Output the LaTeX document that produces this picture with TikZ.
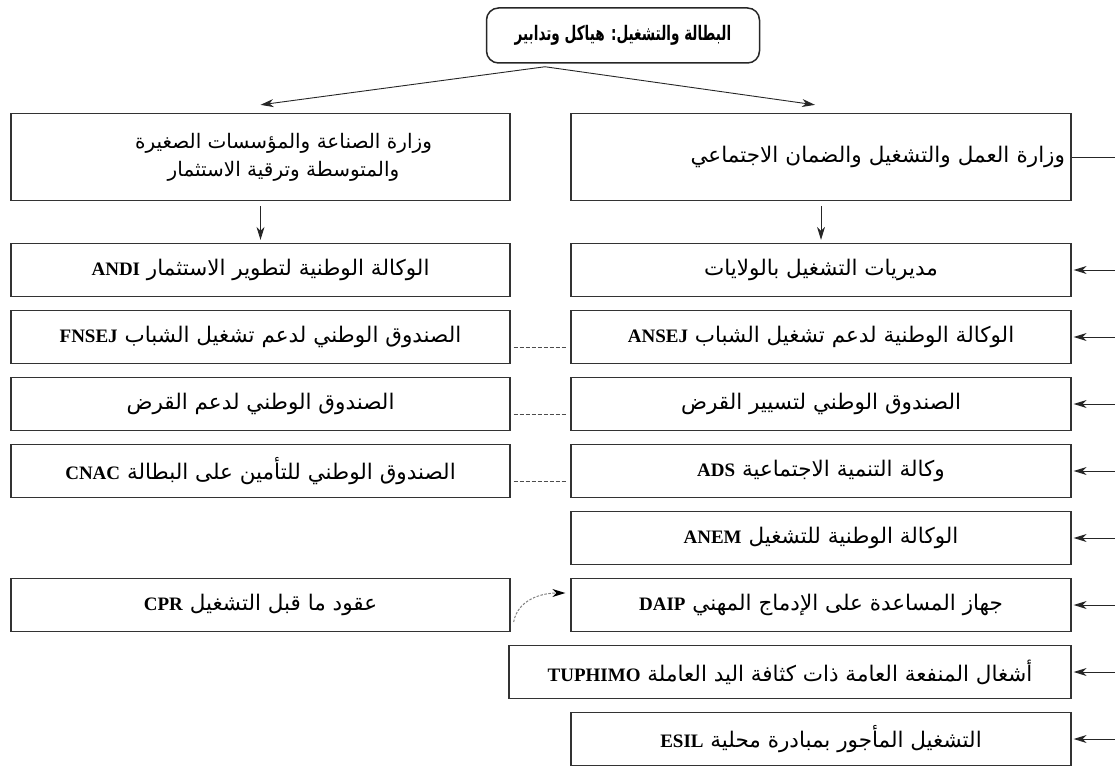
\documentclass[tikz,border=0pt]{standalone}
\usepackage{fontspec}
\setmainfont{Liberation Serif}
\newfontfamily\arabicfont[Script=Arabic]{DejaVu Sans}
\TeXXeTstate=1
\usetikzlibrary{arrows.meta}
\newcommand{\artxt}[1]{{\arabicfont\beginR #1\endR}}
\newcommand{\lattxt}[1]{\beginL{\rmfamily\bfseries\fontsize{19}{22}\selectfont #1}\endL{}}
\begin{document}
\begin{tikzpicture}[x=1pt,y=-1pt,
  box/.style={draw=black!80, line width=1.3pt, minimum height=53pt, inner sep=0pt, font=\fontsize{21.5}{28}\selectfont},
  lbox/.style={box, minimum width=499pt},
  rbox/.style={box, minimum width=500pt},
  conn/.style={draw=black!85, line width=0.9pt},
  arr/.style={conn, -{Stealth[length=13pt,width=8pt,inset=4pt]}},
  dashconn/.style={draw=black!70, line width=0.9pt, dash pattern=on 4pt off 2pt},
  ]
\useasboundingbox (0,0) rectangle (1115,767);
% top
\node[draw=black!85, line width=1.5pt, rounded corners=12pt, minimum width=273pt, minimum height=55pt, inner sep=0pt, font=\fontsize{20}{24}\selectfont\bfseries] (top) at (623,35.5) {\scalebox{0.68}[1]{\artxt{البطالة والتشغيل: هياكل وتدابير}}};
% row 1
\node[lbox, minimum height=87pt, font=\fontsize{20}{28}\selectfont] (l1) at (260.5,157) {\hspace*{46pt}\begin{tabular}{@{}c@{}}\artxt{وزارة الصناعة والمؤسسات الصغيرة}\\ \artxt{والمتوسطة وترقية الاستثمار}\end{tabular}};
\node[rbox, minimum height=87pt, text width=488pt, align=right] (r1) at (821,157) {\artxt{وزارة العمل والتشغيل والضمان الاجتماعي}};
% left column
\node[lbox] (l2) at (260.5,270) {\artxt{الوكالة الوطنية لتطوير الاستثمار \lattxt{ANDI}}};
\node[lbox] (l3) at (260.5,337) {\artxt{الصندوق الوطني لدعم تشغيل الشباب \lattxt{FNSEJ}}};
\node[lbox] (l4) at (260.5,404) {\artxt{الصندوق الوطني لدعم القرض}};
\node[lbox] (l5) at (260.5,471) {\artxt{الصندوق الوطني للتأمين على البطالة \lattxt{CNAC}}};
\node[lbox] (l7) at (260.5,605) {\artxt{عقود ما قبل التشغيل \lattxt{CPR}}};
% right column
\node[rbox] (r2) at (821,270) {\artxt{مديريات التشغيل بالولايات}};
\node[rbox] (r3) at (821,337) {\artxt{الوكالة الوطنية لدعم تشغيل الشباب \lattxt{ANSEJ}}};
\node[rbox] (r4) at (821,404) {\artxt{الصندوق الوطني لتسيير القرض}};
\node[rbox] (r5) at (821,471) {\artxt{وكالة التنمية الاجتماعية \lattxt{ADS}}};
\node[rbox] (r6) at (821,538) {\artxt{الوكالة الوطنية للتشغيل \lattxt{ANEM}}};
\node[rbox] (r7) at (821,605) {\artxt{جهاز المساعدة على الإدماج المهني \lattxt{DAIP}}};
\node[box, minimum width=562pt] (r8) at (790,672) {\artxt{أشغال المنفعة العامة ذات كثافة اليد العاملة \lattxt{TUPHIMO}}};
\node[rbox] (r9) at (821,739) {\artxt{التشغيل المأجور بمبادرة محلية \lattxt{ESIL}}};
% top arrows
\coordinate (split) at ([xshift=-78pt,yshift=-3pt]top.south);
\draw[arr] (split) -- ([yshift=8pt]l1.north);
\draw[arr] (split) -- ([xshift=-6pt,yshift=8pt]r1.north);
% down arrows
\draw[arr] ([yshift=-5pt]l1.south) -- ([yshift=3pt]l2.north);
\draw[arr] ([yshift=-5pt]r1.south) -- ([yshift=3pt]r2.north);
% dashed links
\draw[dashconn] ([xshift=3pt,yshift=-10pt]l3.east) -- ([xshift=-4pt,yshift=-10pt]r3.west);
\draw[dashconn] ([xshift=3pt,yshift=-10pt]l4.east) -- ([xshift=-4pt,yshift=-10pt]r4.west);
\draw[dashconn] ([xshift=3pt,yshift=-10pt]l5.east) -- ([xshift=-4pt,yshift=-10pt]r5.west);
% curved dashed arrow
\draw[draw=black!50, line width=1pt, dash pattern=on 2.5pt off 1.5pt, -{Stealth[length=13pt,width=8pt,inset=4pt,black]}] ([xshift=3pt,yshift=-17pt]l7.east) to[out=80,in=180] ([xshift=-5pt,yshift=12pt]r7.west);
% right feeders
\coordinate (e1) at (1115,157);
\coordinate (e2) at (1115,270);
\coordinate (e3) at (1115,337);
\coordinate (e4) at (1115,404);
\coordinate (e5) at (1115,471);
\coordinate (e6) at (1115,538);
\coordinate (e7) at (1115,605);
\coordinate (e8) at (1115,672);
\coordinate (e9) at (1115,739);
\draw[conn] (e1) -- (r1.east);
\foreach \i in {2,...,9} {\draw[arr] (e\i) -- ([xshift=2pt]r\i.east);}
\end{tikzpicture}
\end{document}
